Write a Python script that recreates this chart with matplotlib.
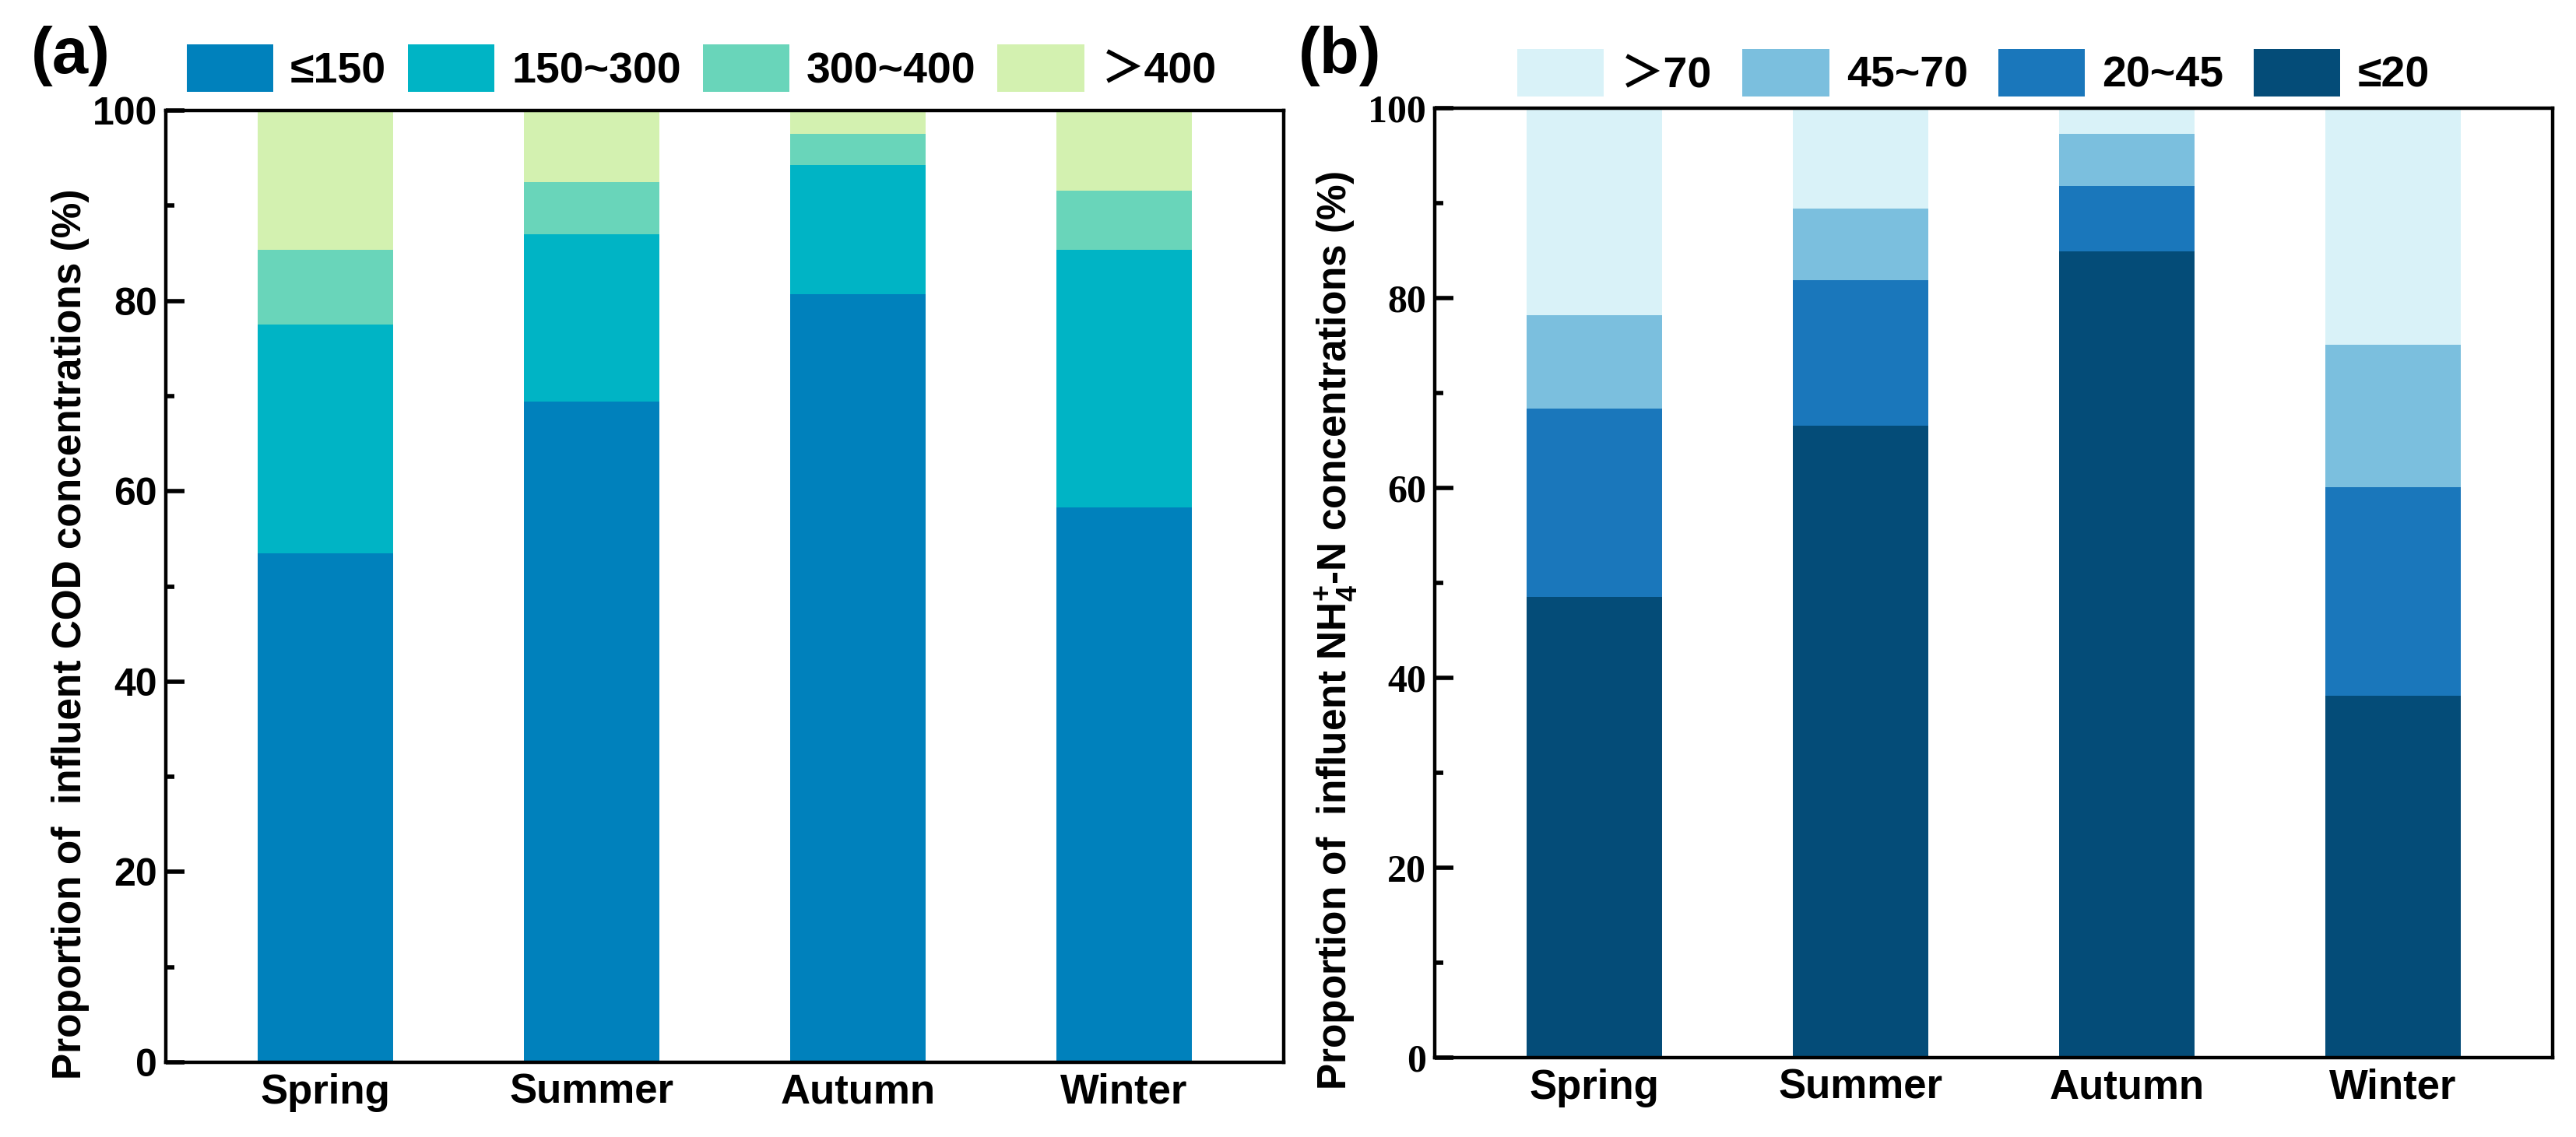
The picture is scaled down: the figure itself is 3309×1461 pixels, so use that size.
import numpy as np
import matplotlib
matplotlib.use('Agg')
import matplotlib.pyplot as plt
from matplotlib.ticker import MultipleLocator

# -----------------------------------------------------------------------------
# data (%)
# -----------------------------------------------------------------------------
seasons = ['Spring', 'Summer', 'Autumn', 'Winter']

# (a) influent COD, share of each band
cod_labels = ['≤150', '150~300', '300~400', '＞400']
cod_le150 = [53.5, 69.4, 80.7, 58.3]
cod_150_300 = [24.0, 17.6, 13.6, 27.1]
cod_300_400 = [7.9, 5.5, 3.3, 6.2]
cod_gt400 = [14.6, 7.5, 2.4, 8.4]
cod_colors = ['#0081bc', '#00b4c5', '#69d5ba', '#d3f1b0']

# (b) influent NH4+-N
nh_labels = ['＞70', '45~70', '20~45', '≤20']
nh_le20 = [48.5, 66.6, 84.9, 38.1]
nh_20_45 = [19.9, 15.3, 6.9, 22.0]
nh_45_70 = [9.8, 7.5, 5.5, 15.0]
nh_gt70 = [21.8, 10.6, 2.7, 24.9]
nh_colors = ['#d9f2f8', '#7bbfde', '#1a77bb', '#044c78']

plt.rcParams['mathtext.fontset'] = 'custom'
plt.rcParams['mathtext.rm'] = 'Liberation Sans:bold'
plt.rcParams['mathtext.bf'] = 'Liberation Sans:bold'
plt.rcParams['mathtext.default'] = 'rm'

SANS = ['Liberation Sans', 'Noto Sans CJK SC', 'DejaVu Sans']
SERIF = ['Liberation Serif', 'DejaVu Serif']

fig = plt.figure(figsize=(33.09, 14.61), dpi=100)
ax_a = fig.add_axes([0.0644, 0.0657, 0.434, 0.837])
ax_b = fig.add_axes([0.557, 0.0698, 0.434, 0.835])

x = np.arange(len(seasons))
width = 0.51


def stack(ax, layers, colors, labels):
    bottom = np.zeros(len(seasons))
    handles = {}
    for vals, c, lab in zip(layers, colors, labels):
        h = ax.bar(x, vals, width, bottom=bottom, color=c, linewidth=0, label=lab)
        handles[lab] = h
        bottom += np.array(vals)
    return handles


def style(ax, tick_family):
    ax.set_xlim(-0.6, 3.6)
    ax.set_ylim(0, 100)
    ax.set_xticks(x)
    ax.set_xticklabels(seasons, family=SANS, weight='bold', fontsize=38)
    ax.yaxis.set_major_locator(MultipleLocator(20))
    ax.yaxis.set_minor_locator(MultipleLocator(10))
    for lab in ax.get_yticklabels():
        lab.set_family(tick_family)
        lab.set_weight('bold')
        lab.set_fontsize(36)
    ax.tick_params(axis='x', length=0, pad=10)
    ax.tick_params(axis='y', which='major', direction='in', length=17, width=4, pad=8)
    ax.tick_params(axis='y', which='minor', direction='in', length=8, width=4)
    for sp in ax.spines.values():
        sp.set_linewidth(3.2)


leg_kw = dict(loc='center', ncol=4, frameon=False,
              prop={'family': SANS, 'weight': 'bold', 'size': 40},
              handlelength=2.0, handleheight=1.3, handletextpad=0.4)

# (a)
ha = stack(ax_a, [cod_le150, cod_150_300, cod_300_400, cod_gt400], cod_colors, cod_labels)
style(ax_a, SANS)
ax_a.set_ylabel('Proportion of  influent COD concentrations (%)',
                family=SANS, weight='bold', fontsize=37)
ax_a.yaxis.set_label_coords(-0.068, 0.45)
fig.legend([ha[l] for l in cod_labels], cod_labels,
           bbox_to_anchor=(0.2724, 0.94), columnspacing=0.5, **leg_kw)

# (b)
hb = stack(ax_b, [nh_le20, nh_20_45, nh_45_70, nh_gt70], nh_colors[::-1], nh_labels[::-1])
style(ax_b, SERIF)
ax_b.set_ylabel(r'Proportion of  influent NH$_{4}^{+}$-N concentrations (%)',
                family=SANS, weight='bold', fontsize=37)
ax_b.yaxis.set_label_coords(-0.067, 0.45)
fig.legend([hb[l] for l in nh_labels], nh_labels,
           bbox_to_anchor=(0.766, 0.936), columnspacing=0.7, **leg_kw)

fig.text(0.0275, 0.951, '(a)', family=SANS, weight='bold', fontsize=60, ha='center', va='center')
fig.text(0.52, 0.951, '(b)', family=SANS, weight='bold', fontsize=60, ha='center', va='center')

fig.savefig('out.png', dpi=100)
